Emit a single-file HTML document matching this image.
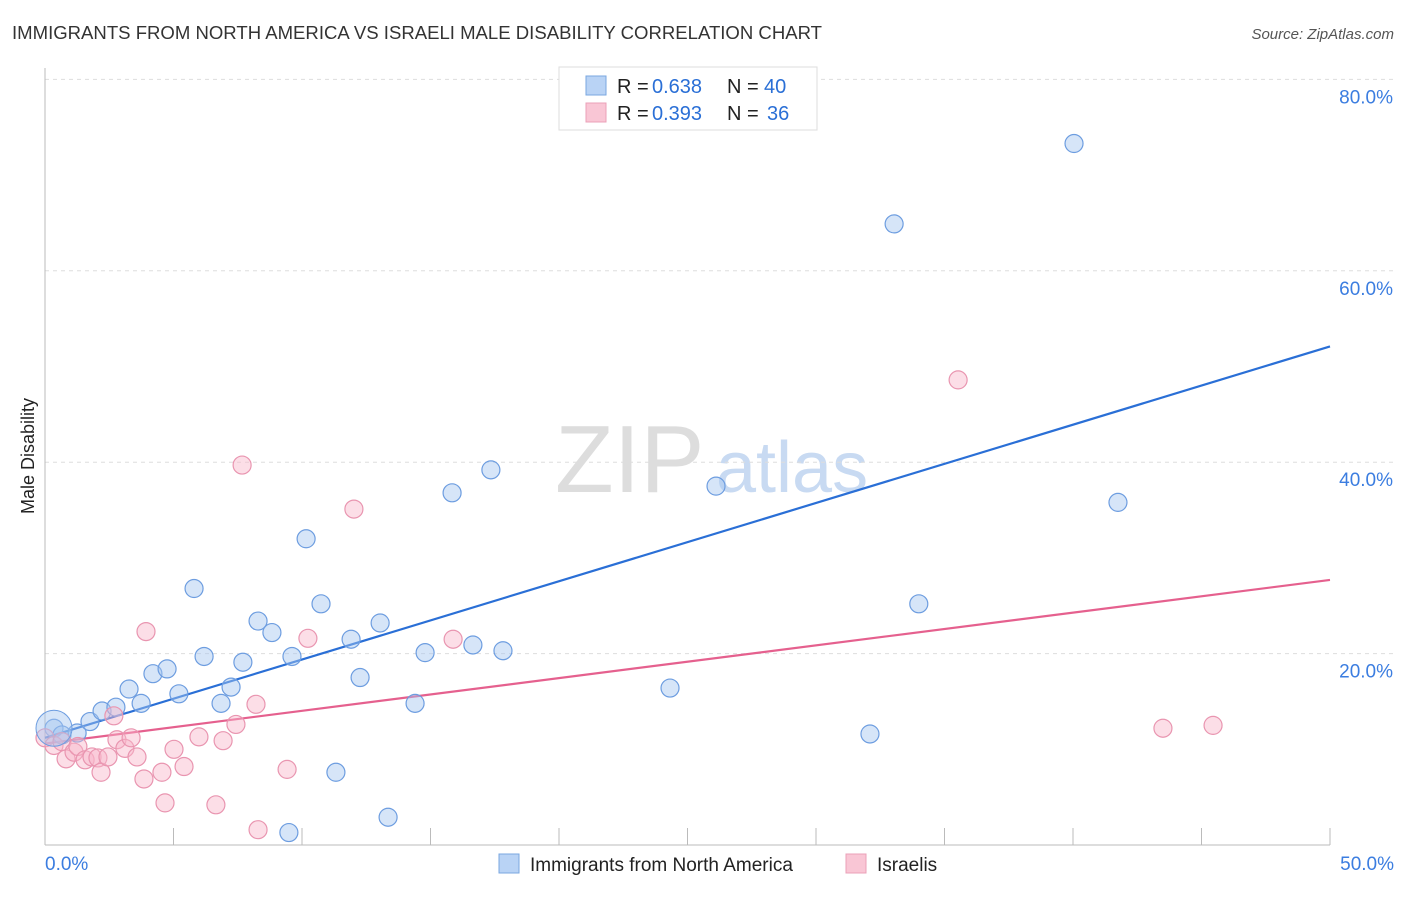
<!DOCTYPE html>
<html><head><meta charset="utf-8"><style>
body{margin:0;background:#fff;font-family:"Liberation Sans",sans-serif;}
svg text{font-family:"Liberation Sans",sans-serif;}
</style></head><body>
<svg id="chart" width="1406" height="892">
<text x="12" y="39" font-size="18" fill="#333" textLength="810" lengthAdjust="spacingAndGlyphs">IMMIGRANTS FROM NORTH AMERICA VS ISRAELI MALE DISABILITY CORRELATION CHART</text>
<text x="1394" y="39" font-size="15" fill="#555" font-style="italic" text-anchor="end">Source: ZipAtlas.com</text>
<text x="555" y="492" font-size="96" fill="#ddd" font-family="Liberation Serif">ZIP</text>
<text x="716" y="492" font-size="72" fill="#c8daf2">atlas</text>
<text transform="translate(34,456) rotate(-90)" font-size="18" fill="#222" text-anchor="middle">Male Disability</text>
<g id="grid"></g><g id="ticks"></g><g id="lines"></g><g id="pts"></g>
<g>
<rect x="559" y="67" width="258" height="63" fill="#fff" stroke="#ddd"/>
<rect x="586" y="76" width="20" height="19" fill="#b9d3f5" stroke="#7aa7e0"/>
<rect x="586" y="103" width="20" height="19" fill="#f9c6d5" stroke="#eba0b8"/>
<g font-size="20" fill="#222">
<text x="617" y="93">R =</text><text x="652" y="93" fill="#2a6fd6">0.638</text><text x="727" y="93">N =</text><text x="764" y="93" fill="#2a6fd6">40</text></g>
<g font-size="20" fill="#222">
<text x="617" y="120">R =</text><text x="652" y="120" fill="#2a6fd6">0.393</text><text x="727" y="120">N =</text><text x="767" y="120" fill="#2a6fd6">36</text></g>
</g>
<g>
<rect x="499" y="854" width="20" height="19" fill="#b9d3f5" stroke="#7aa7e0"/>
<text x="530" y="871" font-size="19" fill="#222">Immigrants from North America</text>
<rect x="846" y="854" width="20" height="19" fill="#f9c6d5" stroke="#eba0b8"/>
<text x="877" y="871" font-size="19" fill="#222">Israelis</text>
</g>
</svg>
<script>
const yTicks=[20,40,60,80];
const yTickLabels=["20.0%","40.0%","60.0%","80.0%"];
const xEndLabels=["0.0%","50.0%"];
const blueX=[0.35,0.66,1.25,1.75,2.22,2.76,3.27,3.74,4.2,4.75,5.21,5.8,6.19,6.85,7.24,7.7,8.29,8.83,9.61,10.16,10.74,11.32,11.91,12.26,13.04,13.35,14.4,14.79,15.84,16.65,17.35,17.82,24.32,26.11,32.1,33.04,34.0,40.04,41.75,9.49];
const blueY=[12.2,11.5,11.7,12.9,14.0,14.4,16.3,14.8,17.9,18.4,15.8,26.8,19.7,14.8,16.5,19.1,23.4,22.2,19.7,32.0,25.2,7.6,21.5,17.5,23.2,2.9,14.8,20.1,36.8,20.9,39.2,20.3,16.4,37.5,11.6,64.9,25.2,73.3,35.8,1.3];
const pinkX=[0,0.35,0.66,0.82,1.13,1.28,1.56,1.83,2.06,2.18,2.45,2.68,2.8,3.11,3.35,3.58,3.85,3.93,4.55,4.67,5.02,5.41,5.99,6.65,6.93,7.43,7.67,8.21,8.29,9.42,10.23,12.02,15.88,35.53,43.5,45.45];
const pinkY=[11.2,10.4,10.8,9.0,9.7,10.3,8.9,9.2,9.1,7.6,9.2,13.5,11.0,10.1,11.2,9.2,6.9,22.3,7.6,4.4,10.0,8.2,11.3,4.2,10.9,12.6,39.7,14.7,1.6,7.9,21.6,35.1,21.5,48.6,12.2,12.5];
const blueTrend=[11.2,52.1];
const pinkTrend=[10.6,27.7];
const NS="http://www.w3.org/2000/svg";
const X=v=>45+v*25.7, Y=v=>845-v*9.57;
function mk(tag,attrs,parent){const e=document.createElementNS(NS,tag);for(const k in attrs)e.setAttribute(k,attrs[k]);document.getElementById(parent).appendChild(e);return e;}
yTicks.forEach((t,i)=>{
 const l=mk('line',{x1:45,x2:1395,y1:Y(t),y2:Y(t),stroke:'#ddd','stroke-dasharray':'4,4'},'grid');
 
 
 const tx=mk('text',{x:1393,y:Y(t)+24,'font-size':19,fill:'#3b7de0','text-anchor':'end'},'grid');
 tx.textContent=yTickLabels[i];
 
 
});
mk('line',{x1:45,x2:45,y1:68,y2:845,stroke:'#bbb'},'ticks');
mk('line',{x1:45,x2:1330,y1:845,y2:845,stroke:'#bbb'},'ticks');
for(let v=5;v<=50;v+=5){const t=mk('line',{x1:X(v),x2:X(v),y1:828,y2:845,stroke:'#bbb'},'ticks');
 
 }
[[0,'start',45],[50,'end',1394]].forEach((a,i)=>{const t=mk('text',{x:a[2],y:870,'font-size':19,fill:'#3b7de0','text-anchor':a[1]},'ticks');t.textContent=xEndLabels[i];
 
 });
function pts(xs,ys,fill,stroke,name){xs.forEach((x,i)=>{const c=mk('circle',{cx:X(x),cy:Y(ys[i]),r:9,fill:fill,stroke:stroke,'stroke-width':1.2},'pts');
 
 });}
pts(blueX,blueY,'rgba(165,198,240,0.45)','#6d9de0','point-immigrants');
pts(pinkX,pinkY,'rgba(248,182,202,0.45)','#e995b0','point-israelis');
const big=mk('circle',{cx:X(0.35),cy:Y(12.2),r:18,fill:'rgba(165,198,240,0.45)',stroke:'#6d9de0'},'pts');


const bl=mk('line',{x1:X(0),y1:Y(blueTrend[0]),x2:X(50),y2:Y(blueTrend[1]),stroke:'#2a6fd6','stroke-width':2.2},'lines');


const pl=mk('line',{x1:X(0),y1:Y(pinkTrend[0]),x2:X(50),y2:Y(pinkTrend[1]),stroke:'#e5608e','stroke-width':2.2},'lines');


</script>
</body></html>
